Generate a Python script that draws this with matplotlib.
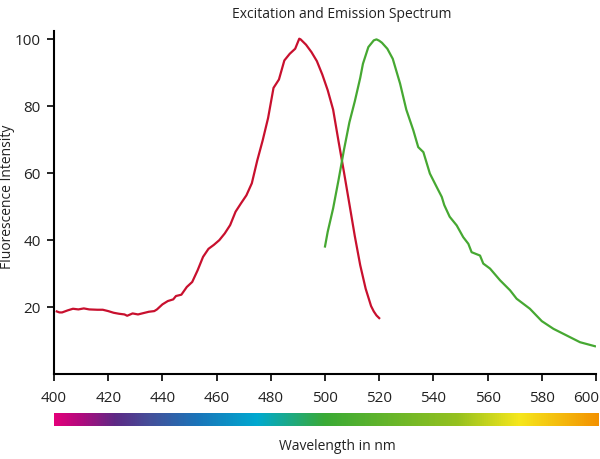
import numpy as np
import matplotlib
matplotlib.use("Agg")
import matplotlib.pyplot as plt
import matplotlib.transforms as mtransforms
from matplotlib.colors import LinearSegmentedColormap

plt.rcParams['font.family'] = ['Open Sans', 'DejaVu Sans']

# Excitation spectrum (red)
ex_nm = [401, 402, 403, 405, 407, 409, 411, 413, 416, 418, 420, 422, 424, 426, 427,
         429, 431, 433, 435, 437, 438, 440, 442, 444, 445, 447, 449, 451, 453, 455,
         457, 459, 461, 463, 465, 467, 469, 471, 473, 475, 477, 479, 481, 483, 485,
         487, 489, 490.5, 491, 493, 495, 497, 499, 501, 503, 505, 507, 509, 511, 513,
         515, 517, 518, 519, 520]
ex_val = [18.7, 18.4, 18.4, 19.0, 19.5, 19.3, 19.6, 19.3, 19.2, 19.2, 18.8, 18.3, 18.0, 17.8, 17.4,
          18.1, 17.8, 18.2, 18.6, 18.8, 19.3, 20.8, 21.8, 22.3, 23.3, 23.7, 26.0, 27.5, 31.0, 35.0,
          37.4, 38.6, 40.0, 42.0, 44.5, 48.5, 51.0, 53.4, 57.0, 63.8, 69.8, 76.5, 85.5, 88.0, 93.7,
          95.7, 97.2, 100.2, 100.0, 98.4, 96.2, 93.5, 89.5, 84.8, 79.0, 69.5, 60.3, 50.8, 41.2, 32.5,
          25.5, 20.3, 18.7, 17.5, 16.7]

# Emission spectrum (green)
em_nm = [500, 501, 503, 505, 507, 509, 511, 513, 514, 516, 518, 519, 520, 521, 523, 525,
         527.7, 530, 532.6, 534.4, 536.3, 538.7, 541.2, 543.1, 544, 546, 548.6, 551, 552.9,
         554.1, 557.2, 558.4, 560.9, 564.6, 568.3, 570.7, 575.6, 580, 584.3, 589.2, 594.1, 599.6]
em_val = [38.1, 42.5, 49.5, 58.0, 67.0, 75.2, 81.5, 88.5, 92.7, 97.7, 99.7, 100.0, 99.6, 99.0, 97.2, 94.2,
          86.8, 79.0, 72.8, 67.8, 66.3, 59.9, 55.9, 52.9, 50.5, 47.0, 44.4, 40.9, 38.9,
          36.4, 35.4, 33.0, 31.5, 28.0, 25.0, 22.5, 19.5, 15.8, 13.5, 11.5, 9.5, 8.3]

x_ticks = [400, 420, 440, 460, 480, 500, 520, 540, 560, 580, 600]
y_ticks = [20, 40, 60, 80, 100]

spectrum_pos = [0.0, 0.048, 0.112, 0.176, 0.262, 0.372, 0.497, 0.741, 0.855, 1.0]
spectrum_col = ['#e2007a', '#b00a7e', '#5c2a85', '#44509a', '#1a74b9', '#00a9d0',
                '#3aaa35', '#95c11f', '#f6e71c', '#f39200']

fig = plt.figure(figsize=(6.0, 4.59), dpi=100)
ax = fig.add_axes([54/600, 1 - 374/459, 542/600, (374 - 31)/459])
ax.plot(ex_nm, ex_val, color='#c8102e', lw=1.6)
ax.plot(em_nm, em_val, color='#46a832', lw=1.6)
ax.set_xlim(400, 600)
ax.set_ylim(0, 102.5)
ax.set_xticks(x_ticks)
ax.set_yticks(y_ticks)
for s in ['top', 'right']:
    ax.spines[s].set_visible(False)
for s in ['left', 'bottom']:
    ax.spines[s].set_linewidth(1.5)
    ax.spines[s].set_color('black')
ax.tick_params(axis='both', length=5, width=1.2, labelsize=11, colors='black',
               labelcolor='#222222')
ax.tick_params(axis='x', pad=7.5)
ax.tick_params(axis='y', pad=4.5)

fig.canvas.draw()
last = ax.get_xticklabels()[-1]
last.set_horizontalalignment('right')
last.set_transform(last.get_transform() + mtransforms.ScaledTranslation(0.03, 0, fig.dpi_scale_trans))

fig.text(342/600, 1 - 14/459, 'Excitation and Emission Spectrum', ha='center', va='center',
         fontsize=10, color='#222222')
fig.text(8/600, 1 - 197/459, 'Fluorescence Intensity', ha='center', va='center',
         rotation=90, fontsize=10, color='#222222')
fig.text(337/600, 1 - 446/459, 'Wavelength in nm', ha='center', va='center',
         fontsize=10, color='#222222')

cmap = LinearSegmentedColormap.from_list('spec', list(zip(spectrum_pos, spectrum_col)))
cax = fig.add_axes([54/600, 1 - 426/459, 545/600, 13/459])
grad = np.linspace(0, 1, 512)[None, :]
cax.imshow(grad, aspect='auto', cmap=cmap, extent=[400, 600, 0, 1])
cax.set_axis_off()

fig.savefig('out.png', dpi=100)
